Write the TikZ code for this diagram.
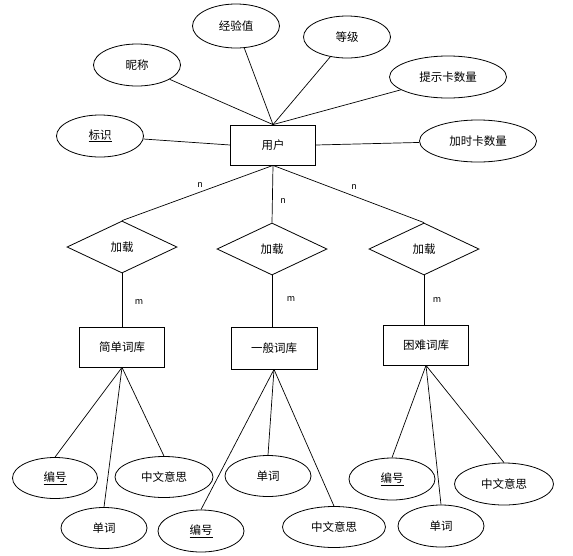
\documentclass[tikz,border=0pt]{standalone}
\usepackage{fontspec}
\setmainfont{Noto Sans CJK SC}
\usetikzlibrary{shapes.geometric}
\begin{document}
\begin{tikzpicture}[x=1pt,y=-1pt,
  every node/.style={font=\fontsize{11.5}{13}\selectfont, inner sep=0pt},
  attr/.style={ellipse, draw, line width=0.8pt, minimum width=87pt, minimum height=42pt},
  wattr/.style={attr, minimum width=117pt},
  cattr/.style={attr, minimum width=98pt},
  ent/.style={rectangle, draw, line width=0.8pt, minimum width=85pt, minimum height=40pt},
  rel/.style={diamond, draw, line width=0.8pt, minimum width=110pt, minimum height=52pt},
  card/.style={font=\fontsize{9}{10}\selectfont},
  conn/.style={line width=0.7pt}]
\useasboundingbox (0,0) rectangle (573,555);
% user entity
\node[ent] (user) at (273,145) {用户};
\node[attr] (bs) at (100,136) {\underline{标识}};
\node[attr] (nc) at (137,65) {昵称};
\node[attr, minimum height=44pt] (jyz) at (236,26) {经验值};
\node[attr] (dj) at (347,37) {等级};
\node[wattr] (tsk) at (448,77) {提示卡数量};
\node[wattr] (jsk) at (478,141) {加时卡数量};
\draw[conn] (nc) -- (user.north);
\draw[conn] (jyz) -- (user.north);
\draw[conn] (dj) -- (user.north);
\draw[conn] (tsk) -- (user.north);
\draw[conn] (bs) -- (user.west);
\draw[conn] (jsk) -- (user.east);
% relationships
\node[rel] (r1) at (122,247) {加载};
\node[rel] (r2) at (272,249) {加载};
\node[rel] (r3) at (424,249) {加载};
\draw[conn] (user.south) -- (r1.north);
\draw[conn] (user.south) -- (r2.north);
\draw[conn] (user.south) -- (r3.north);
\node[card] (n1) at (200,185) {n};
\node[card] (n2) at (283,201) {n};
\node[card] (n3) at (354,187) {n};
% word banks
\node[ent] (e1) at (122,347) {简单词库};
\node[ent, minimum width=86pt, minimum height=42pt] (e2) at (274,348) {一般词库};
\node[ent] (e3) at (426,345) {困难词库};
\draw[conn] (r1.south) -- (e1.north);
\draw[conn] (r2.south) -- (e2.north -| r2.south);
\draw[conn] (r3.south) -- (e3.north -| r3.south);
\node[card] (m1) at (139,302) {m};
\node[card] (m2) at (291,299) {m};
\node[card] (m3) at (437,300) {m};
% left group
\node[attr, minimum width=85pt, minimum height=41pt] (a1) at (55,478) {\underline{编号}};
\node[cattr, minimum height=41pt] (a2) at (164,477) {中文意思};
\node[attr, minimum width=86pt, minimum height=41pt] (a3) at (104,528) {单词};
\draw[conn] (e1.south) -- (a1.north);
\draw[conn] (e1.south) -- (a3.north);
\draw[conn] (e1.south) -- (a2.north);
% middle group
\node[attr, minimum width=86pt, minimum height=41pt] (b1) at (268,476) {单词};
\node[attr, minimum width=86pt, minimum height=42pt] (b2) at (201,531) {\underline{编号}};
\node[cattr, minimum width=103pt, minimum height=41pt] (b3) at (334,527) {中文意思};
\draw[conn] (e2.south) -- (b1.north);
\draw[conn] (e2.south) -- (b2.north);
\draw[conn] (e2.south) -- (b3.north);
% right group
\node[attr, minimum width=86pt, minimum height=42pt] (c1) at (392,479) {\underline{编号}};
\node[cattr, minimum width=99pt, minimum height=42pt] (c2) at (504,484) {中文意思};
\node[attr, minimum width=86pt, minimum height=42pt] (c3) at (441,526) {单词};
\draw[conn] (e3.south) -- (c1.north);
\draw[conn] (e3.south) -- (c3.north);
\draw[conn] (e3.south) -- (c2.north);
\end{tikzpicture}
\end{document}
